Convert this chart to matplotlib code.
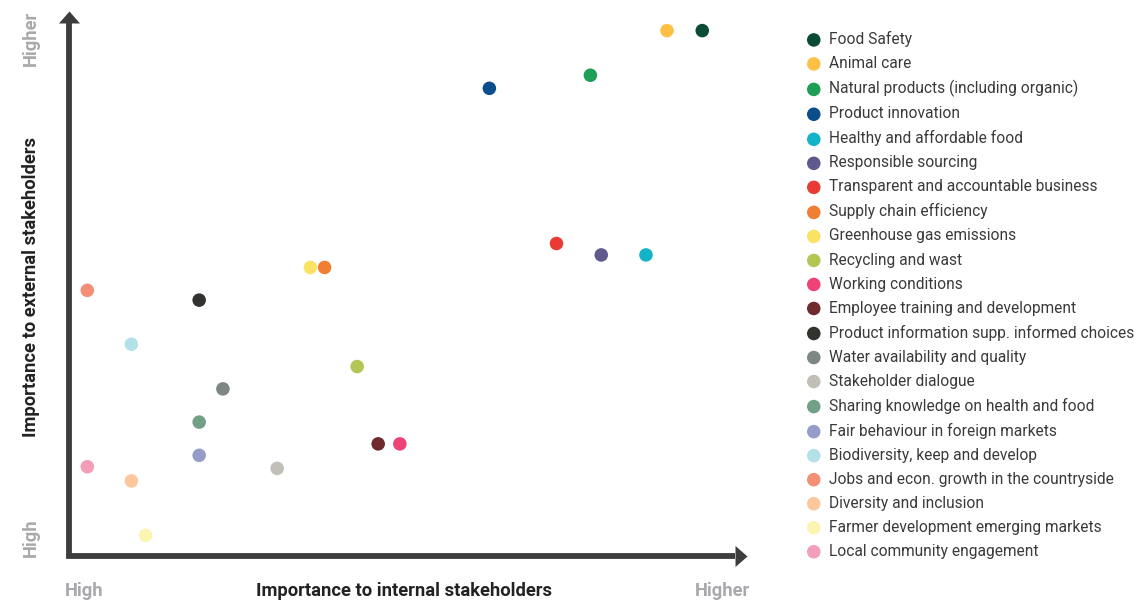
import matplotlib
matplotlib.use('Agg')
import matplotlib.pyplot as plt

plt.rcParams['font.family'] = ['Roboto', 'DejaVu Sans']

topics = [
    'Food Safety', 'Animal care', 'Natural products (including organic)',
    'Product innovation', 'Healthy and affordable food', 'Responsible sourcing',
    'Transparent and accountable business', 'Supply chain efficiency',
    'Greenhouse gas emissions', 'Recycling and wast', 'Working conditions',
    'Employee training and development', 'Product information supp. informed choices',
    'Water availability and quality', 'Stakeholder dialogue',
    'Sharing knowledge on health and food', 'Fair behaviour in foreign markets',
    'Biodiversity, keep and develop', 'Jobs and econ. growth in the countryside',
    'Diversity and inclusion', 'Farmer development emerging markets',
    'Local community engagement',
]
# importance to internal stakeholders (0-10)
internal = [9.34, 8.82, 7.69, 6.20, 8.51, 7.85, 7.19, 3.77, 3.56, 4.25, 4.88,
            4.56, 1.92, 2.27, 3.07, 1.92, 1.92, 0.92, 0.27, 0.92, 1.13, 0.27]
# importance to external stakeholders (0-10)
external = [9.64, 9.64, 8.82, 8.58, 5.52, 5.52, 5.73, 5.29, 5.29, 3.47, 2.05,
            2.05, 4.69, 3.06, 1.60, 2.45, 1.84, 3.88, 4.87, 1.37, 0.37, 1.63]
colors = ['#0b4a36', '#fdc045', '#1f9e55', '#0a4f8c', '#14b4c8', '#5f5a8e',
          '#e93a35', '#f07f34', '#fae265', '#b3c655', '#ef4277', '#6f2a2e',
          '#32332f', '#7f8783', '#c2bfb9', '#72a086', '#959ec8', '#b4e0e8',
          '#f48e77', '#fcc79d', '#fbf5b1', '#f29eb8']

W, H = 1138, 605
fig = plt.figure(figsize=(W / 100, H / 100), dpi=100)
# axes spans from the origin to the arrow tips
x0, y0, x1, y1 = 69, 555.5, 747, 11
ax = fig.add_axes([x0 / W, (H - y0) / H, (x1 - x0) / W, (y0 - y1) / H])
ax.set_xlim(0, 10)
ax.set_ylim(0, 10)
ax.axis('off')

# axis arrows: L-shaped line plus triangular heads
axis_col = '#3d3d3d'
ybase, xbase = 9.78, 9.82
ax.plot([0, 0, xbase], [ybase, 0, 0], color=axis_col, lw=4.2, solid_joinstyle='miter',
        solid_capstyle='butt', clip_on=False, zorder=2)
head_up = [(-10.5, 0), (10.5, 0), (0, 12), (-10.5, 0)]
head_right = [(0, -10.5), (0, 10.5), (12, 0), (0, -10.5)]
ax.plot(0, ybase, marker=head_up, ms=17.3, color=axis_col, mew=0, clip_on=False)
ax.plot(xbase, 0, marker=head_right, ms=17.3, color=axis_col, mew=0, clip_on=False)

handles = []
for x, y, c, t in zip(internal, external, colors, topics):
    h = ax.scatter(x, y, s=95, color=c, edgecolors='none', label=t, zorder=3,
                   clip_on=False)
    handles.append(h)

leg = ax.legend(handles=handles, loc='upper left', bbox_to_anchor=(806 / W, 1 - 31 / H),
                bbox_transform=fig.transFigure, frameon=False, fontsize=11.2,
                borderpad=0, borderaxespad=0, handletextpad=0.45, handlelength=1.0,
                labelspacing=0.58, scatterpoints=1)
for txt in leg.get_texts():
    txt.set_color('#3a3a3a')

bold = dict(fontweight='bold', fontsize=13.2)
fig.text(404 / W, 1 - 591 / H, 'Importance to internal stakeholders', ha='center',
         va='center', color='#222222', **bold)
fig.text(31 / W, 1 - 287 / H, 'Importance to external stakeholders', ha='center',
         va='center', rotation=90, color='#222222', **bold)
grey = '#a9a9ad'
fig.text(84.5 / W, 1 - 591 / H, 'High', ha='center', va='center', color=grey, **bold)
fig.text(722 / W, 1 - 591 / H, 'Higher', ha='center', va='center', color=grey, **bold)
fig.text(31 / W, 1 - 38 / H, 'Higher', ha='center', va='center', rotation=90,
         color=grey, **bold)
fig.text(31 / W, 1 - 538 / H, 'High', ha='center', va='center', rotation=90,
         color=grey, **bold)

fig.savefig('out.png', dpi=100)
